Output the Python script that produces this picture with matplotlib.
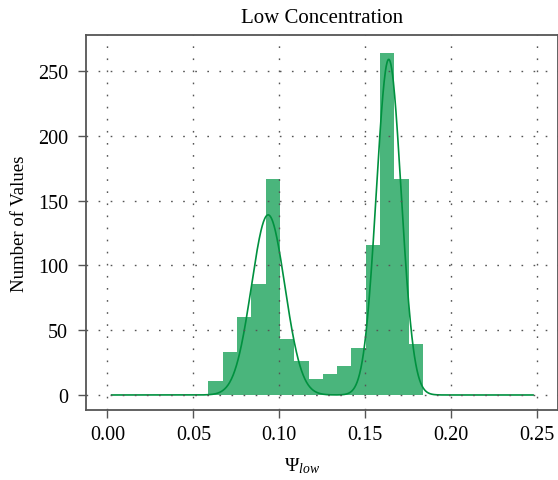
import numpy as np
import matplotlib
matplotlib.use("Agg")
import matplotlib.pyplot as plt

plt.rcParams['font.family'] = ['Liberation Serif', 'DejaVu Serif']
plt.rcParams['mathtext.fontset'] = 'custom'
plt.rcParams['mathtext.rm'] = 'Liberation Serif'
plt.rcParams['mathtext.it'] = 'Liberation Serif:italic'

# histogram
bin_edges = [0.0587, 0.0670, 0.0753, 0.0837, 0.0920, 0.1003, 0.1086, 0.1170,
             0.1253, 0.1336, 0.1419, 0.1503, 0.1586, 0.1669, 0.1752, 0.1835]
counts = [11, 33, 60, 86, 167, 43, 26, 12, 16, 22, 36, 116, 264, 167, 39]

# fitted two-peak curve (peak position, height, width)
peak_mu = [0.0935, 0.1636]
peak_amp = [139, 259]
peak_sigma = [0.0097, 0.0072]
curve_range = (0.0025, 0.2475)

x_ticks = [0.00, 0.05, 0.10, 0.15, 0.20, 0.25]
y_ticks = [0, 50, 100, 150, 200, 250]

bar_color = "#4ab57c"
line_color = "#00913f"

fig = plt.figure(figsize=(5.58, 4.81), dpi=100)
ax = fig.add_axes([0.1541, 0.1455, 0.8459, 0.7797])

ax.stairs(counts, bin_edges, fill=True, color=bar_color, lw=0)

xs = np.linspace(curve_range[0], curve_range[1], 1000)
ys = np.zeros_like(xs)
for mu, amp, sig in zip(peak_mu, peak_amp, peak_sigma):
    ys += amp * np.exp(-0.5 * ((xs - mu) / sig) ** 2)
ax.plot(xs, ys, color=line_color, lw=1.2)

ax.set_xlim(-0.0124, 0.262)
ax.set_ylim(-11.6, 277.8)
ax.set_xticks(x_ticks)
ax.set_xticklabels([f"{t:.2f}" for t in x_ticks])
ax.set_yticks(y_ticks)

ax.grid(True, color="#555555", linestyle=(0, (1.2, 7.5)), lw=1.0)
ax.set_axisbelow(False)
for s in ax.spines.values():
    s.set_color("#555555")
    s.set_linewidth(1.3)
ax.tick_params(direction="out", length=6, width=1, color="#555555",
               labelsize=14.5)
ax.tick_params(axis="y", pad=7)
ax.tick_params(axis="x", pad=5)

ax.set_title("Low Concentration", fontsize=15, pad=9)
ax.set_ylabel("Number of Values", fontsize=13.5, labelpad=7)
ax.set_xlabel(r"$\mathrm{\Psi}_{low}$", fontsize=14)
ax.xaxis.set_label_coords(0.458, -0.122)

fig.savefig("out.png", dpi=100)
